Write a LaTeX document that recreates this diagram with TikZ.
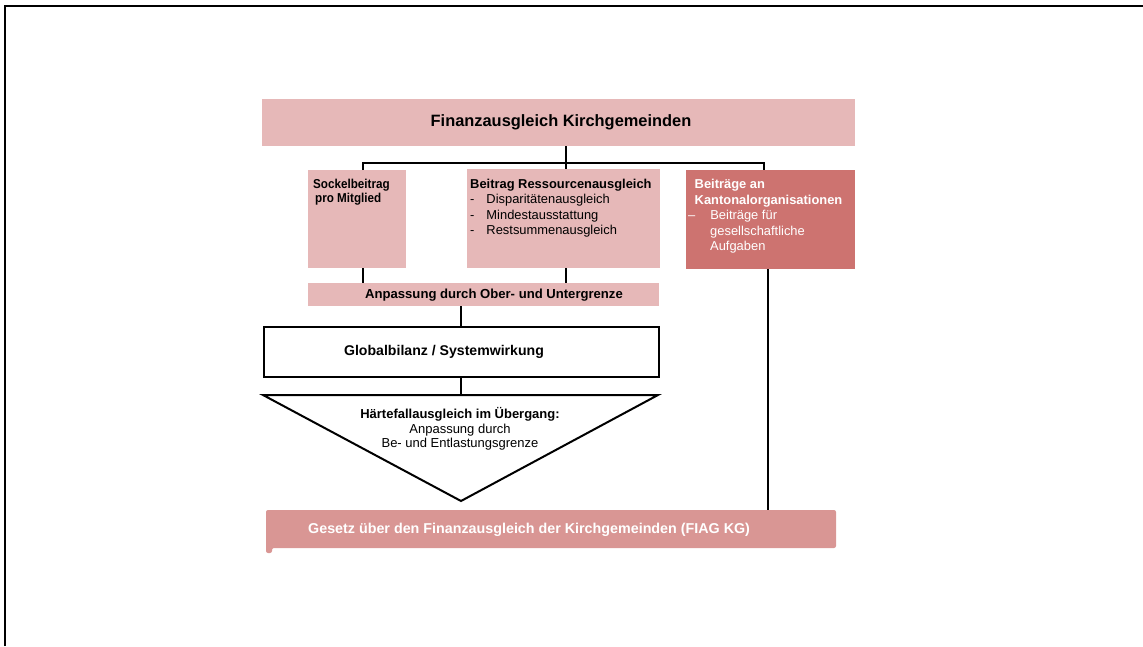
\documentclass[tikz,border=0pt]{standalone}
\usepackage{fontspec}
\setmainfont{Liberation Sans}
\definecolor{pinkA}{HTML}{E6B8B8}
\definecolor{redB}{HTML}{CD7370}
\definecolor{pinkC}{HTML}{D99694}
\begin{document}
\begin{tikzpicture}[x=1pt,y=-1pt,
  conn/.style={line width=1.3pt},
  pbox/.style={fill=pinkA,draw=none,inner sep=0pt},
  lbl/.style={font=\fontsize{12.9}{15.6}\selectfont,align=left,anchor=north west,inner sep=0pt}]
\useasboundingbox (0,0) rectangle (1143,646);
\draw[line width=2pt] (5,646) -- (5,6) -- (1143,6);
% top
\node[pbox,minimum width=593pt,minimum height=47pt,anchor=north west] (top) at (262,99) {};
\node[font=\bfseries\fontsize{16.4}{19}\selectfont,inner sep=0pt] (toptxt) at (561,122) {Finanzausgleich Kirchgemeinden};
% second row boxes
\node[pbox,minimum width=98pt,minimum height=98pt,anchor=north west] (sock) at (308,170) {};
\node[lbl,font=\bfseries\fontsize{12.9}{14.6}\selectfont] (socktxt) at (313,178.5) {\scalebox{0.905}[1]{Sockelbeitrag}\\\hspace{2pt}\scalebox{0.905}[1]{pro Mitglied}};
\node[pbox,minimum width=193pt,minimum height=99pt,anchor=north west] (ress) at (467,169) {};
\node[lbl] (resstxt) at (470,178.5) {\textbf{Beitrag Ressourcenausgleich}\\
-\hspace{12pt}Disparitätenausgleich\\
-\hspace{12pt}Mindestausstattung\\
-\hspace{12pt}Restsummenausgleich};
\node[fill=redB,draw=none,inner sep=0pt,minimum width=169pt,minimum height=99pt,anchor=north west] (kant) at (686,170) {};
\node[lbl,text=white] (kanttxt) at (694.5,179) {\textbf{Beiträge an}\\
\textbf{Kantonalorganisationen}\\
\hspace{-6.5pt}–\hspace{15pt}Beiträge für\\
\hspace{15.5pt}gesellschaftliche\\
\hspace{15.5pt}Aufgaben};
% connectors from top
\coordinate (j) at (566,163);
\draw[conn] (top.south -| j) -- (j);
\draw[conn] (363,170) -- (363,163) -- (764,163) -- (764,170);
\draw[conn] (j) -- (566,169);
% Anpassung
\node[pbox,minimum width=351pt,minimum height=23pt,anchor=north west] (anp) at (308,283) {};
\node[font=\bfseries\fontsize{13.1}{15}\selectfont,inner sep=0pt] (anptxt) at (494,295) {Anpassung durch Ober- und Untergrenze};
\draw[conn] (363,268) -- (363,283);
\draw[conn] (566,268) -- (566,283);
% Globalbilanz
\node[draw,line width=2pt,fill=white,minimum width=395pt,minimum height=50pt,anchor=north west] (glob) at (263,326) {};
\node[font=\bfseries\fontsize{14.1}{16}\selectfont,inner sep=0pt] (globtxt) at (444,352) {Globalbilanz / Systemwirkung};
\draw[conn] (461,306) -- (461,326);
% triangle
\coordinate (tl) at (263,395);
\coordinate (tr) at (658,395);
\coordinate (tb) at (461,501);
\draw[line width=2pt,line join=miter] (tl) -- (tr) -- (tb) -- cycle;
\draw[conn] (461,376) -- (461,395);
\node[font=\fontsize{13}{14.5}\selectfont,align=center,inner sep=0pt,anchor=north] (tritxt) at (460,407.5)
 {\textbf{Härtefallausgleich im Übergang:}\\Anpassung durch\\Be- und Entlastungsgrenze};
% bottom
\draw[conn] (768,269) -- (768,510);
\path[fill=pinkC,rounded corners=2pt] (266,510) -- (836,510) -- (836,548) -- (272,548) -- (272,553) -- (266,553) -- cycle;
\node[font=\bfseries\fontsize{14.3}{16}\selectfont,text=white,inner sep=0pt,anchor=west] (law) at (308,530) {Gesetz über den Finanzausgleich der Kirchgemeinden (FIAG KG)};
\end{tikzpicture}
\end{document}
